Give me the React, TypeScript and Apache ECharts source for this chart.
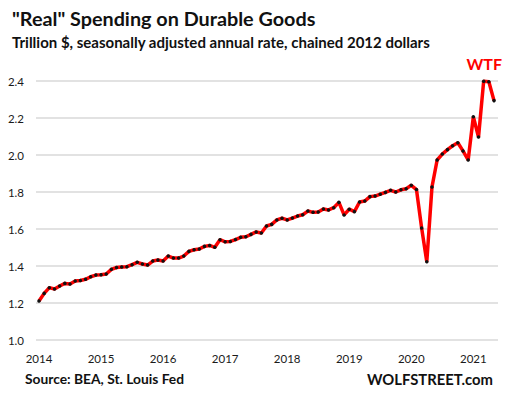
import React, { useEffect, useRef } from "react";
import * as echarts from "echarts";

const yearLabels = ["2014", "2015", "2016", "2017", "2018", "2019", "2020", "2021"];

const v2014 = [1.211, 1.252, 1.283, 1.276, 1.292, 1.306, 1.303, 1.319, 1.322, 1.328, 1.342, 1.351];
const v2015 = [1.353, 1.357, 1.382, 1.392, 1.395, 1.396, 1.407, 1.42, 1.411, 1.405, 1.427, 1.432];
const v2016 = [1.427, 1.454, 1.443, 1.443, 1.454, 1.479, 1.488, 1.492, 1.506, 1.511, 1.501, 1.542];
const v2017 = [1.531, 1.533, 1.543, 1.555, 1.558, 1.571, 1.584, 1.578, 1.616, 1.625, 1.649, 1.658];
const v2018 = [1.649, 1.659, 1.67, 1.677, 1.697, 1.69, 1.692, 1.708, 1.703, 1.715, 1.744, 1.676];
const v2019 = [1.707, 1.694, 1.746, 1.751, 1.775, 1.778, 1.788, 1.798, 1.809, 1.8, 1.812, 1.818];
const v2020 = [1.836, 1.813, 1.605, 1.423, 1.827, 1.973, 2.005, 2.029, 2.05, 2.066, 2.022, 1.973];
const v2021 = [2.207, 2.097, 2.399, 2.396, 2.294];

const values = [...v2014, ...v2015, ...v2016, ...v2017, ...v2018, ...v2019, ...v2020, ...v2021];

const titleText = '"Real" Spending on Durable Goods';
const subtitleText = "Trillion $, seasonally adjusted annual rate, chained 2012 dollars";
const sourceText = "Source: BEA, St. Louis Fed";
const brandText = "WOLFSTREET.com";
const noteText = "WTF";

const FONT = "Lato";

export default function App() {
  const ref = useRef<HTMLDivElement>(null);
  useEffect(() => {
    if (!ref.current) return;
    const chart = echarts.init(ref.current, null, { renderer: "svg" });
    const data = values.map((v, i) => [i, v]);
    chart.setOption({
      animation: false,
      backgroundColor: "#ffffff",
      grid: { left: 36, right: 7, top: 81, bottom: 59, containLabel: false },
      xAxis: {
        type: "value",
        min: -0.58,
        max: 88.77,
        axisLine: { show: false },
        axisTick: { show: false },
        splitLine: { show: false },
        axisLabel: {
          customValues: yearLabels.map((_, i) => i * 12),
          formatter: (v: number) => yearLabels[Math.round(v / 12)] ?? "",
          color: "#1a1a1a",
          fontFamily: FONT,
          fontSize: 11.5,
          margin: 12,
        },
      },
      yAxis: {
        type: "value",
        min: 1.0,
        max: 2.4,
        interval: 0.2,
        axisLine: { show: false },
        axisTick: { show: false },
        splitLine: { lineStyle: { color: "#d9d9d9", width: 1.5 } },
        axisLabel: {
          formatter: (v: number) => v.toFixed(1),
          color: "#1a1a1a",
          fontFamily: FONT,
          fontSize: 11.5,
          margin: 12,
        },
      },
      series: [
        {
          type: "line",
          data,
          clip: false,
          symbol: "circle",
          symbolSize: 3.5,
          showSymbol: true,
          itemStyle: { color: "#111111" },
          lineStyle: { color: "#ff0000", width: 3.5 },
          z: 3,
        },
      ],
      graphic: [
        {
          type: "text",
          left: 12,
          top: 8,
          style: { text: titleText, font: `bold 19.8px ${FONT}`, fill: "#111111" },
        },
        {
          type: "text",
          left: 12,
          top: 34,
          style: { text: subtitleText, font: `bold 15px ${FONT}`, fill: "#111111" },
        },
        {
          type: "text",
          left: 25,
          top: 371,
          style: { text: sourceText, font: `bold 13.8px ${FONT}`, fill: "#111111" },
        },
        {
          type: "text",
          right: 12,
          top: 371,
          style: { text: brandText, font: `bold 14.8px ${FONT}`, fill: "#111111" },
        },
        {
          type: "text",
          right: 3,
          top: 55,
          style: { text: noteText, font: `bold 16px ${FONT}`, fill: "#ff0000" },
        },
      ],
    });
    return () => chart.dispose();
  }, []);
  return <div ref={ref} style={{ width: 505, height: 399, position: "fixed", left: 0, top: 0 }} />;
}
